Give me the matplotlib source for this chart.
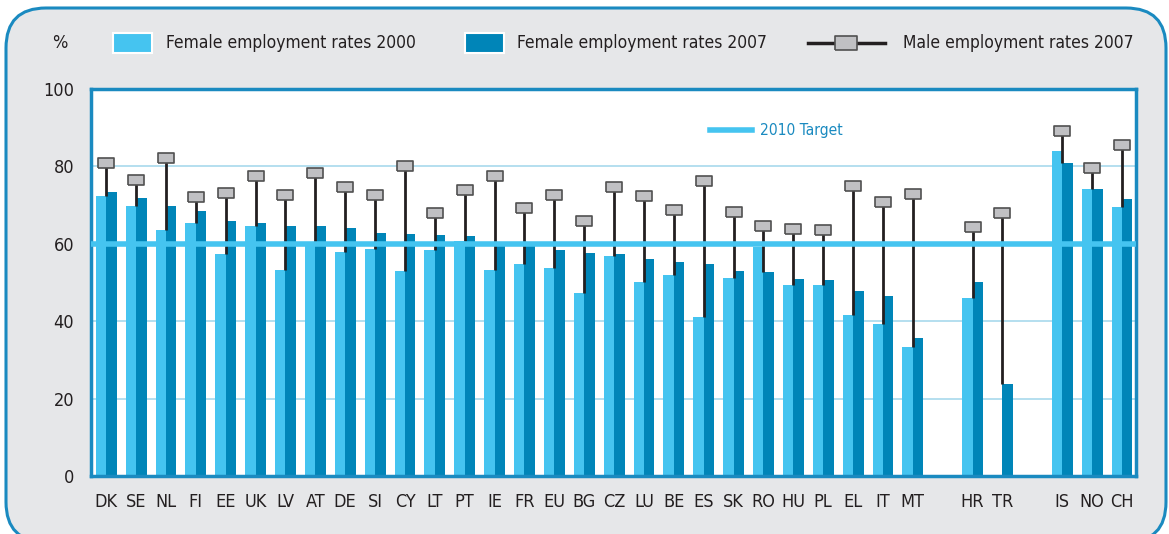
"""
Female employment rates 2000 / 2007 and male employment rates 2007 by country.
"""

import numpy as np
import matplotlib
matplotlib.use("Agg")
import matplotlib.pyplot as plt
from matplotlib import font_manager
from matplotlib.patches import FancyBboxPatch, Rectangle
from matplotlib.lines import Line2D


countries_eu = ["DK", "SE", "NL", "FI", "EE", "UK", "LV", "AT", "DE", "SI", "CY", "LT", "PT", "IE",
                "FR", "EU", "BG", "CZ", "LU", "BE", "ES", "SK", "RO", "HU", "PL", "EL", "IT", "MT"]
countries_cand = ["HR", "TR"]
countries_efta = ["IS", "NO", "CH"]

female_2000 = [72.3, 69.9, 63.5, 65.3, 57.3, 64.6, 53.3, 60.1, 57.9, 58.6, 53.0, 58.3, 60.6, 53.2,
               54.9, 53.7, 47.2, 56.9, 50.1, 51.9, 41.1, 51.1, 59.1, 49.4, 49.4, 41.7, 39.2, 33.3,
               45.9, np.nan,
               84.0, 74.1, 69.4]
female_2007 = [73.3, 71.9, 69.7, 68.6, 66.0, 65.5, 64.5, 64.5, 64.1, 62.7, 62.5, 62.2, 61.9, 60.5,
               59.9, 58.3, 57.6, 57.4, 56.1, 55.3, 54.7, 53.0, 52.8, 50.8, 50.6, 47.8, 46.5, 35.6,
               50.1, 23.7,
               81.0, 74.1, 71.7]
male_2007 = [81.0, 76.6, 82.2, 72.1, 73.2, 77.5, 72.5, 78.4, 74.7, 72.7, 80.1, 67.9, 73.8, 77.5,
             69.3, 72.5, 65.9, 74.8, 72.3, 68.7, 76.3, 68.3, 64.6, 63.9, 63.5, 75.0, 70.7, 73.0,
             64.4, 68.0,
             89.2, 79.5, 85.6]
target_2010 = 60
y_ticks = [0, 20, 40, 60, 80, 100]

LIGHT = "#45c4f0"
DARK = "#0085b8"
FRAME = "#1a8ac0"
GRID = "#a8d9ec"
STEM = "#231f20"
MARK_FACE = "#c0c0c3"
MARK_EDGE = "#505050"
BG = "#e6e7e9"
TXT = "#231f20"

# a condensed face is closest to the original lettering, if one is installed
condensed = [f for f in font_manager.fontManager.ttflist
             if f.name == "DejaVu Sans" and f.stretch == "condensed" and f.style == "normal"]
if condensed:
    plt.rcParams["font.family"] = ["DejaVu Sans"]
    plt.rcParams["font.stretch"] = "condensed"
    FS_TICK, FS_LEG, FS_TGT = 13, 12.5, 11.2
else:
    plt.rcParams["font.family"] = ["Liberation Sans", "DejaVu Sans"]
    FS_TICK, FS_LEG, FS_TGT = 13, 13, 11.5
plt.rcParams["font.size"] = FS_TICK

# group positions with one empty slot between groups
labels = countries_eu + countries_cand + countries_efta
x = []
start = 0
for grp in (countries_eu, countries_cand, countries_efta):
    x.extend(range(start, start + len(grp)))
    start += len(grp) + 1
x = np.array(x, dtype=float)

f00 = np.array(female_2000)
f07 = np.array(female_2007)
m07 = np.array(male_2007)
low = np.where(np.isnan(f00), f07, np.fmin(f00, f07))

rect_marker = [(-1.5, -1), (1.5, -1), (1.5, 1), (-1.5, 1), (-1.5, -1)]

fig = plt.figure(figsize=(11.69, 5.34), dpi=100)
fig.patch.set_facecolor("white")
box = FancyBboxPatch((0.06, -0.08), 11.60, 5.34, boxstyle="round,pad=0,rounding_size=0.4",
                     transform=fig.dpi_scale_trans, facecolor=BG, edgecolor=FRAME, lw=2.2,
                     zorder=-5)
fig.add_artist(box)

ax = fig.add_axes([0.0776, 0.1086, 0.8942, 0.7247])
ax.set_facecolor("white")
w = 0.35
ax.bar(x - w / 2, f00, width=w, color=LIGHT, zorder=2)
ax.bar(x + w / 2, f07, width=w, color=DARK, zorder=2)
ax.vlines(x, low, m07, color=STEM, lw=2, zorder=3)
ax.axhline(target_2010, color=LIGHT, lw=4, zorder=4)
ax.plot(x, m07, ls="none", marker=rect_marker, markersize=11, markerfacecolor=MARK_FACE,
        markeredgecolor=MARK_EDGE, markeredgewidth=1.2, zorder=5)

for v in y_ticks:
    if v not in (0, target_2010, 100):
        ax.axhline(v, color=GRID, lw=1.2, zorder=1)

ax.set_xlim(-0.52, x[-1] + 0.47)
ax.set_ylim(0, 100)
ax.set_yticks(y_ticks)
ax.set_xticks(x)
ax.set_xticklabels(labels)
ax.tick_params(axis="both", length=0, labelsize=FS_TICK, colors=TXT)
ax.tick_params(axis="x", pad=12)
ax.tick_params(axis="y", pad=12)
for sp in ax.spines.values():
    sp.set_color(FRAME)
    sp.set_linewidth(2.5)

# 2010 target key inside the plot
ax.plot([0.5925, 0.6325], [0.894, 0.894], transform=ax.transAxes, color=LIGHT, lw=4)
ax.text(0.6405, 0.894, "2010 Target", transform=ax.transAxes, color=FRAME,
        fontsize=FS_TGT, va="center", ha="left")

# top legend
ly = 1 - 43 / 534
fig.text(60 / 1169, ly, "%", fontsize=FS_TICK, va="center", ha="center", color=TXT)
fig.add_artist(Rectangle((113 / 1169, 1 - 53 / 534), 39 / 1169, 20 / 534, transform=fig.transFigure,
                         facecolor=LIGHT, edgecolor="white", lw=1.5))
fig.text(166 / 1169, ly, "Female employment rates 2000", fontsize=FS_LEG, va="center", color=TXT)
fig.add_artist(Rectangle((465 / 1169, 1 - 53 / 534), 39 / 1169, 20 / 534, transform=fig.transFigure,
                         facecolor=DARK, edgecolor="white", lw=1.5))
fig.text(517 / 1169, ly, "Female employment rates 2007", fontsize=FS_LEG, va="center", color=TXT)
fig.add_artist(Line2D([808 / 1169, 885 / 1169], [ly, ly], transform=fig.transFigure, color=STEM, lw=2.5))
fig.add_artist(Line2D([846 / 1169], [ly], transform=fig.transFigure, ls="none", marker=rect_marker,
                      markersize=16, markerfacecolor=MARK_FACE, markeredgecolor=MARK_EDGE,
                      markeredgewidth=1.2))
fig.text(903 / 1169, ly, "Male employment rates 2007", fontsize=FS_LEG, va="center", color=TXT)

fig.savefig("out.png", dpi=100, facecolor=fig.get_facecolor())
